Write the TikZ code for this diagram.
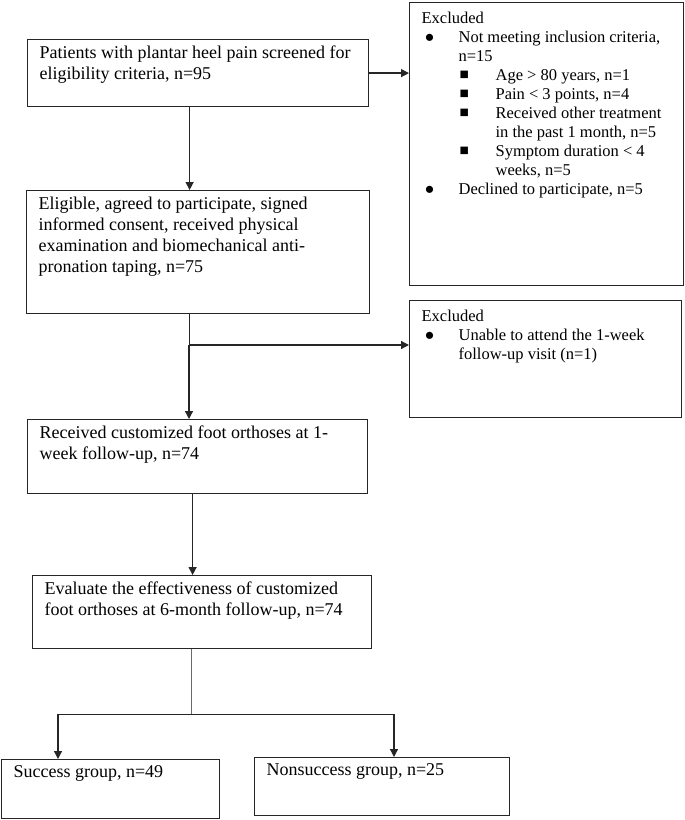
\documentclass[tikz,border=0pt]{standalone}
\usepackage{fontspec}
\setmainfont{Liberation Serif}
\usepackage{xcolor}
\usetikzlibrary{
    positioning,
    calc,
    arrows.meta
}
\definecolor{EdgeDark}{HTML}{262626}
\definecolor{StemGray}{HTML}{6A6A6A}

\newcommand{\flowtext}[3]{\parbox[t][#2][t]{#1}{\raggedright #3}}
\newcommand{\dotitem}{\hspace*{3pt}\makebox[34pt][l]{●}}
\newcommand{\sqitem}{\hspace*{38pt}\makebox[36pt][l]{\raisebox{0.5pt}{\fontsize{15.5}{15.5}\selectfont ■}}}

\tikzset{
    flowbox/.style={
        draw=EdgeDark,
        line width=1.2pt,
        anchor=north west,
        inner xsep=12pt,
        inner ysep=6pt,
        font=\fontsize{18}{21}\selectfont
    },
    exclbox/.style={
        flowbox,
        inner ysep=9pt,
        font=\fontsize{16.5}{19}\selectfont
    },
    flowarrow/.style={
        draw=EdgeDark,
        line width=1.3pt,
        -{Triangle[length=8pt,width=8pt]}
    },
    flowline/.style={draw=EdgeDark, line width=1pt},
    stemline/.style={draw=StemGray, line width=0.9pt}
}

\begin{document}
\begin{tikzpicture}[x=1pt,y=-1pt]
    \useasboundingbox (0,0) rectangle (685,820);

    % main column
    \node[flowbox] (screen) at (27,39) {\flowtext{317pt}{55pt}{%
        Patients with plantar heel pain screened for\\
        eligibility criteria, n=95}};
    \node[flowbox] (eligible) at (26,190) {\flowtext{319pt}{111pt}{%
        Eligible, agreed to participate, signed\\
        informed consent, received physical\\
        examination and biomechanical anti-\\
        pronation taping, n=75}};
    \node[flowbox] (orthoses) at (27,419) {\flowtext{316pt}{62pt}{%
        Received customized foot orthoses at 1-\\
        week follow-up, n=74}};
    \node[flowbox] (evaluate) at (32,575) {\flowtext{315pt}{61pt}{%
        Evaluate the effectiveness of customized\\
        foot orthoses at 6-month follow-up, n=74}};

    % outcome groups
    \node[flowbox] (success) at (1,759) {\flowtext{194pt}{47pt}{%
        Success group, n=49}};
    \node[flowbox] (nonsuccess) at (254,757) {\flowtext{231pt}{46pt}{%
        Nonsuccess group, n=25}};

    % exclusions
    \node[exclbox] (exclscreen) at (409,2) {\flowtext{250pt}{265pt}{%
        Excluded\\
        \dotitem Not meeting inclusion criteria,\\
        \hspace*{37pt}n=15\\
        \sqitem Age > 80 years, n=1\\
        \sqitem Pain < 3 points, n=4\\
        \sqitem Received other treatment\\
        \hspace*{74pt}in the past 1 month, n=5\\
        \sqitem Symptom duration < 4\\
        \hspace*{74pt}weeks, n=5\\
        \dotitem Declined to participate, n=5}};
    \node[exclbox] (exclvisit) at (409,300) {\flowtext{248pt}{99pt}{%
        Excluded\\
        \dotitem Unable to attend the 1-week\\
        \hspace*{37pt}follow-up visit (n=1)}};

    % connectors
    \coordinate (lossjoin) at (189,345);
    \coordinate (split) at (191,714);
    \coordinate (splitleft) at (58,714);
    \coordinate (splitright) at (394,714);

    \draw[flowarrow] ([xshift=-8.5pt]screen.south) -- ([xshift=-8.5pt]screen.south |- eligible.north);
    \draw[flowarrow] (screen.east) -- (screen.east -| exclscreen.west);
    \draw[flowline] (eligible.south -| lossjoin) -- (lossjoin);
    \draw[flowarrow] (lossjoin) -- (lossjoin |- orthoses.north);
    \draw[flowarrow] (lossjoin) -- (lossjoin -| exclvisit.west);
    \draw[flowarrow] ([xshift=-5pt]orthoses.south) -- ([xshift=-5pt]orthoses.south |- evaluate.north);
    \draw[stemline] (evaluate.south -| split) -- (split);
    \draw[flowline] (splitleft) -- (splitright);
    \draw[flowarrow] (splitleft) -- (splitleft |- success.north);
    \draw[flowarrow] (splitright) -- (splitright |- nonsuccess.north);
\end{tikzpicture}
\end{document}
